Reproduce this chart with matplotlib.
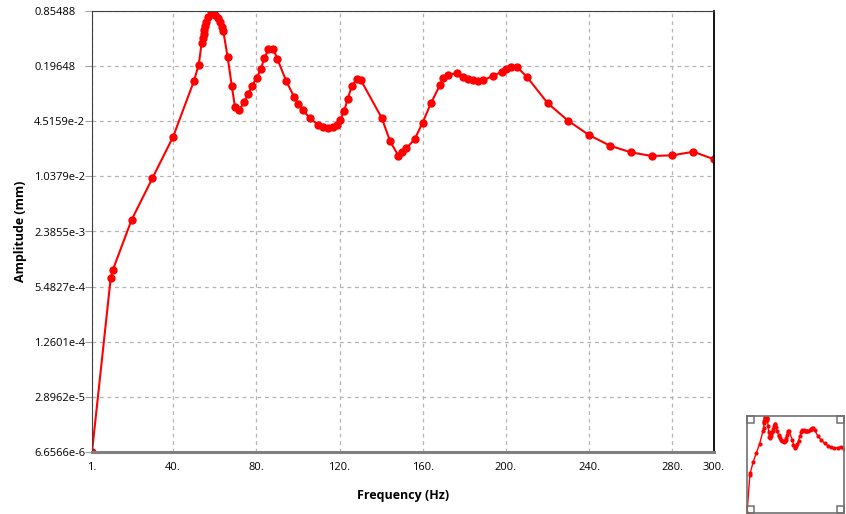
import numpy as np
import matplotlib.pyplot as plt
from matplotlib.patches import Rectangle

# Frequency response
freq = [1, 10, 11, 20, 30, 40, 50, 52.3, 53.7, 54.2, 54.6, 55.0, 55.4, 55.8, 56.6,
        58.1, 60.1, 61.6, 62.5, 63.4, 64.1, 66.2, 68.2, 69.75, 71.8, 74.2, 76.1,
        77.8, 80.2, 82.1, 83.8, 85.8, 88.2, 90.1, 94.3, 98.1, 100.2, 102.3, 105.8,
        109.8, 112.2, 114.6, 117, 118.6, 120.2, 122.2, 123.9, 125.9, 128.3, 130.2,
        140.3, 144.3, 148.3, 149.9, 152.1, 156.1, 159.9, 163.9, 168.2, 169.9,
        171.9, 176.3, 179.5, 181.9, 184.3, 186.7, 189.1, 193.9, 197.9, 200,
        202.3, 205.5, 210, 220.1, 230, 239.9, 250, 260.1, 270.1, 280, 290.1, 300]
amp = [6.6566e-6, 6.955e-4, 8.54e-4, 3.24e-3, 9.86e-3, 2.99e-2, 0.132, 0.204,
       0.361, 0.416, 0.463, 0.515, 0.573, 0.637, 0.728,
       0.85488, 0.769, 0.709, 0.643, 0.562, 0.506, 0.249, 0.116, 0.0655, 0.061,
       0.076, 0.0934, 0.116, 0.144, 0.180, 0.242, 0.308, 0.308, 0.238, 0.133,
       0.0869, 0.0715, 0.061, 0.0488, 0.0409, 0.0390, 0.0374, 0.0390, 0.0409,
       0.0467, 0.0593, 0.0817, 0.116, 0.139, 0.1357,
       0.0492, 0.02645, 0.0180, 0.0198, 0.02195, 0.0279, 0.0434, 0.0729, 0.1178,
       0.142, 0.156, 0.1627, 0.1458, 0.139, 0.1357, 0.133, 0.1357, 0.151, 0.1693,
       0.180, 0.1919, 0.190, 0.148, 0.0729, 0.0455, 0.0313, 0.0235, 0.0197,
       0.01787, 0.0182, 0.02003, 0.01636]

ymin, ymax = 6.6566e-6, 0.85488
ytick_labels = ['6.6566e-6', '2.8962e-5', '1.2601e-4', '5.4827e-4', '2.3855e-3',
                '1.0379e-2', '4.5159e-2', '0.19648', '0.85488']
xticks = [1, 40, 80, 120, 160, 200, 240, 280, 300]
xtick_labels = ['1.', '40.', '80.', '120.', '160.', '200.', '240.', '280.', '300.']

red = '#ff0000'
plt.rcParams['font.family'] = ['Open Sans', 'DejaVu Sans']

fig = plt.figure(figsize=(8.46, 5.14), dpi=100)
ax = fig.add_axes([92/846, 1 - 452/514, 622/846, 441/514])

ax.plot(freq, amp, color=red, lw=1.5, marker='o', ms=5, mec=red, mfc=red)
ax.set_yscale('log')
ax.set_xlim(1, 300)
ax.set_ylim(ymin, ymax)

ax.set_yticks(np.geomspace(ymin, ymax, len(ytick_labels)))
ax.set_yticklabels(ytick_labels, ha='left')
ax.yaxis.set_minor_locator(plt.NullLocator())
ax.set_xticks(xticks)
ax.set_xticklabels(xtick_labels)

ax.grid(True, color='#b4b4b4', ls=(0, (3, 3)), lw=0.9)
# labels start at x=34 px, i.e. 58 px left of the axis
ax.tick_params(axis='y', length=5, color='#a0a0a0', labelsize=8, pad=58 * 0.72 - 5)
ax.tick_params(axis='x', length=0, labelsize=8, pad=7)

ax.spines['bottom'].set_color('#808080')
ax.spines['bottom'].set_linewidth(2.2)
ax.spines['left'].set_color('#404040')
ax.spines['top'].set_color('#404040')
ax.spines['right'].set_color('black')
ax.spines['right'].set_linewidth(1.3)

ax.set_xlabel('Frequency (Hz)', fontsize=9, fontweight='bold', labelpad=12)
ax.set_ylabel('Amplitude (mm)', fontsize=9, fontweight='bold')
ax.yaxis.set_label_coords(-0.105, 0.5)

# thumbnail overview
ins = fig.add_axes([747/846, 1 - 513/514, 97/846, 97/514])
ins.plot(freq, amp, color=red, lw=1, marker='o', ms=2, mec=red, mfc=red)
ins.set_yscale('log')
ins.set_xlim(1, 300)
ins.set_ylim(ymin, ymax)
ins.set_xticks([])
ins.set_yticks([])
ins.yaxis.set_minor_locator(plt.NullLocator())
for s in ins.spines.values():
    s.set_color('#707070')
    s.set_linewidth(1.2)
for cx, cy in [(0, 0), (1, 0), (0, 1), (1, 1)]:
    ins.add_patch(Rectangle((cx - 0.07 if cx else 0, cy - 0.07 if cy else 0), 0.07, 0.07,
                            transform=ins.transAxes, fill=False, ec='#707070', lw=1.1,
                            clip_on=False))

fig.savefig('out.png', dpi=100)
